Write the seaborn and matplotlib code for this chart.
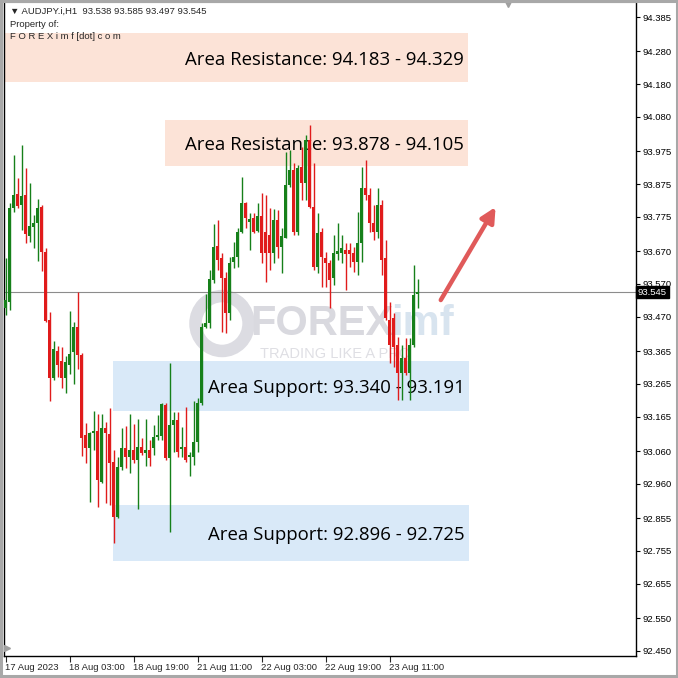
import matplotlib
matplotlib.use("Agg")
import matplotlib.pyplot as plt
import matplotlib.transforms as mtransforms
from matplotlib.patches import Rectangle, Circle
import seaborn as sns

# AUDJPY H1 candles
opens = [93.497, 93.515, 93.802, 93.845, 93.811, 93.842, 93.716, 93.744, 93.756, 93.805,
         93.668, 93.460, 93.283, 93.365, 93.335, 93.283, 93.323, 93.362, 93.439, 93.353,
         93.109, 93.069, 93.115, 93.121, 92.966, 93.130, 93.112, 93.027, 92.859, 93.011,
         93.069, 93.042, 93.063, 93.033, 93.072, 93.054, 93.063, 93.069, 93.103, 93.106,
         93.201, 93.039, 93.139, 93.155, 93.066, 93.072, 93.042, 93.042, 93.088, 93.207,
         93.439, 93.451, 93.582, 93.686, 93.649, 93.588, 93.481, 93.637, 93.652, 93.729,
         93.817, 93.759, 93.771, 93.732, 93.778, 93.729, 93.720, 93.665, 93.765, 93.683,
         93.710, 93.872, 93.918, 93.729, 93.927, 93.878, 94.010, 93.805, 93.622, 93.729,
         93.649, 93.634, 93.588, 93.662, 93.665, 93.674, 93.674, 93.665, 93.637, 93.695,
         93.863, 93.842, 93.756, 93.729, 93.811, 93.649, 93.460, 93.466, 93.384, 93.298,
         93.344, 93.298, 93.384, 93.538]
highs = [93.649, 93.817, 93.964, 93.894, 93.994, 93.924, 93.878, 93.781, 93.829, 93.811,
         93.680, 93.484, 93.396, 93.381, 93.378, 93.350, 93.487, 93.454, 93.546, 93.359,
         93.146, 93.118, 93.182, 93.173, 93.173, 93.149, 93.191, 93.063, 93.042, 93.130,
         93.136, 93.173, 93.143, 93.158, 93.100, 93.158, 93.094, 93.139, 93.170, 93.207,
         93.207, 93.329, 93.179, 93.179, 93.133, 93.194, 93.057, 93.213, 93.222, 93.451,
         93.539, 93.613, 93.753, 93.765, 93.665, 93.607, 93.652, 93.698, 93.741, 93.897,
         93.820, 93.787, 93.787, 93.817, 93.848, 93.842, 93.802, 93.799, 93.796, 93.741,
         93.973, 93.979, 93.939, 93.933, 93.988, 94.025, 94.055, 93.939, 93.787, 93.741,
         93.668, 93.643, 93.720, 93.756, 93.720, 93.695, 93.695, 93.683, 93.790, 93.927,
         93.949, 93.863, 93.811, 93.863, 93.826, 93.704, 93.515, 93.481, 93.408, 93.384,
         93.405, 93.405, 93.628, 93.585]
lows = [93.475, 93.491, 93.790, 93.802, 93.735, 93.695, 93.698, 93.680, 93.640, 93.610,
        93.454, 93.213, 93.277, 93.286, 93.252, 93.237, 93.295, 93.265, 93.310, 93.045,
        93.023, 92.904, 93.063, 92.889, 92.962, 92.901, 92.895, 92.779, 92.856, 93.002,
        93.008, 92.993, 93.023, 92.883, 93.048, 93.014, 93.014, 93.048, 93.094, 93.094,
        93.033, 92.813, 93.057, 93.042, 93.042, 93.027, 92.984, 93.017, 93.057, 93.201,
        93.436, 93.436, 93.573, 93.613, 93.423, 93.420, 93.460, 93.619, 93.622, 93.726,
        93.741, 93.674, 93.726, 93.729, 93.634, 93.576, 93.613, 93.634, 93.649, 93.604,
        93.710, 93.866, 93.720, 93.720, 93.826, 93.826, 93.802, 93.613, 93.604, 93.561,
        93.561, 93.497, 93.567, 93.643, 93.634, 93.552, 93.622, 93.607, 93.597, 93.637,
        93.826, 93.729, 93.704, 93.710, 93.597, 93.460, 93.329, 93.317, 93.216, 93.216,
        93.292, 93.216, 93.378, 93.497]
closes = [93.521, 93.802, 93.842, 93.808, 93.839, 93.723, 93.747, 93.756, 93.802, 93.668,
          93.457, 93.283, 93.372, 93.323, 93.283, 93.332, 93.356, 93.439, 93.353, 93.100,
          93.069, 93.115, 93.121, 92.972, 93.130, 93.115, 93.023, 92.859, 93.011, 93.069,
          93.042, 93.063, 93.033, 93.072, 93.054, 93.063, 93.039, 93.103, 93.109, 93.204,
          93.039, 93.139, 93.155, 93.057, 93.072, 93.033, 93.048, 93.088, 93.207, 93.439,
          93.451, 93.585, 93.683, 93.643, 93.588, 93.481, 93.634, 93.652, 93.729, 93.817,
          93.771, 93.768, 93.729, 93.778, 93.665, 93.665, 93.665, 93.765, 93.683, 93.716,
          93.872, 93.918, 93.729, 93.924, 93.878, 94.010, 93.805, 93.622, 93.726, 93.652,
          93.634, 93.582, 93.665, 93.671, 93.680, 93.662, 93.662, 93.637, 93.695, 93.863,
          93.842, 93.756, 93.729, 93.811, 93.643, 93.466, 93.384, 93.378, 93.298, 93.344,
          93.298, 93.384, 93.536, 93.545]

last_price = 93.545
header = "\u25bc AUDJPY.i,H1  93.538 93.585 93.497 93.545"

xtick_pos = [0, 16, 32, 48, 64, 80, 96]
xtick_labels = ["17 Aug 2023", "18 Aug 03:00", "18 Aug 19:00", "21 Aug 11:00",
                "22 Aug 03:00", "22 Aug 19:00", "23 Aug 11:00"]
ytick_vals = [94.385, 94.280, 94.180, 94.080, 93.975, 93.875, 93.775, 93.670, 93.570,
              93.470, 93.365, 93.265, 93.165, 93.060, 92.960, 92.855, 92.755, 92.655,
              92.550, 92.450]

zone_labels = ["Area Resistance: 94.183 - 94.329", "Area Resistance: 93.878 - 94.105",
               "Area Support: 93.340 - 93.191", "Area Support: 92.896 - 92.725"]
zone_lo = [94.187, 93.930, 93.182, 92.724]
zone_hi = [94.336, 94.071, 93.335, 92.895]
zone_start = [-0.1, 39.9, 26.9, 26.9]
zone_end = [115.6, 115.6, 115.8, 115.8]
zone_kind = ["res", "res", "sup", "sup"]

sns.set_theme(style="white")
plt.rcParams['font.family'] = ['Liberation Sans', 'DejaVu Sans']

GREEN = "#16801a"
RED = "#e01b1b"

fig = plt.figure(figsize=(6.78, 6.78), dpi=100)
ax = fig.add_axes([4/678, 22.5/678, 632/678, 653.5/678])
ax.set_facecolor("white")

# zones
for lab, lo, hi, s, e, k in zip(zone_labels, zone_lo, zone_hi, zone_start, zone_end, zone_kind):
    col = "#fce3d7" if k == "res" else "#d9e9f8"
    ax.add_patch(Rectangle((s, lo), e - s, hi - lo, facecolor=col, edgecolor="none", zorder=1))
    ax.text(e - 1.0, (lo + hi) / 2, lab, ha="right", va="center_baseline", fontsize=13.4,
            family=["Open Sans", "DejaVu Sans"], color="black", zorder=2)

# watermark
ax.add_patch(Circle((0.345, 0.508), 0.042, transform=ax.transAxes, facecolor="none",
                    edgecolor="#dcdce2", lw=9, zorder=0.5))
ax.text(0.389, 0.508, "FOREX", transform=ax.transAxes, fontsize=30, weight="bold",
        color="#d9d9df", ha="left", va="center", zorder=0.5)
ax.text(0.612, 0.508, "imf", transform=ax.transAxes, fontsize=30, weight="bold",
        color="#d8e4ef", ha="left", va="center", zorder=0.5)
ax.text(0.405, 0.461, "TRADING LIKE A PRO", transform=ax.transAxes, fontsize=10.5,
        color="#dfdfe4", ha="left", va="center", zorder=0.5)

# candles
for i, (o, h, l, c) in enumerate(zip(opens, highs, lows, closes)):
    col = GREEN if c >= o else RED
    ax.vlines(i, l, h, color=col, lw=1.0, zorder=3)
    ax.bar(i, max(abs(c - o), 0.003), bottom=min(o, c), width=0.8, color=col,
           edgecolor="none", zorder=3)

# last price line
ax.axhline(last_price, color="#8c8c8c", lw=0.8, zorder=2.5)

# arrow
ax.annotate("", xy=(122.5, 93.805), xytext=(108.8, 93.521),
            arrowprops=dict(arrowstyle="-|>", color="#e05a5a", lw=3.2, mutation_scale=22,
                            shrinkA=0, shrinkB=0), zorder=4)

ax.set_xlim(-0.375, 157.6)
ax.set_ylim(92.4357, 94.431)

ax.yaxis.tick_right()
ax.set_yticks(ytick_vals)
ax.set_yticklabels([f"{v:.3f}" for v in ytick_vals])
ax.tick_params(axis="y", right=True, left=False, length=3, width=0.8, pad=1.5,
               labelsize=6.8, colors="black")
ax.set_xticks(xtick_pos)
ax.set_xticklabels(xtick_labels, ha="left")
ax.tick_params(axis="x", bottom=True, length=4, width=0.8, pad=1.5, labelsize=6.8)
offset = mtransforms.ScaledTranslation(-1/100, 0, fig.dpi_scale_trans)
for lbl in ax.get_xticklabels():
    lbl.set_transform(lbl.get_transform() + offset)

for side in ["left", "right", "bottom"]:
    ax.spines[side].set_color("black")
    ax.spines[side].set_linewidth(1.0)
ax.spines["top"].set_color("#b0b0b0")
ax.spines["top"].set_linewidth(0.8)

# current price tag
trans = mtransforms.blended_transform_factory(ax.transAxes, ax.transData)
ax.text(1.003, last_price, f"{last_price:.3f}", transform=trans, ha="left", va="center",
        fontsize=6.8, color="white", zorder=6, clip_on=False,
        bbox=dict(boxstyle="square,pad=0.18", facecolor="black", edgecolor="black"))

# header
ax.text(0.01, 0.985, header, transform=ax.transAxes, fontsize=6.8, va="center", ha="left",
        family=["Liberation Sans", "DejaVu Sans"], zorder=6)
ax.text(0.01, 0.966, "Property of:", transform=ax.transAxes, fontsize=6.8, va="center", zorder=6)
ax.text(0.01, 0.947, "F O R E X i m f [dot] c o m", transform=ax.transAxes, fontsize=6.8,
        va="center", zorder=6)

# small markers
ax.plot([0.797], [0.997], marker="v", color="#a0a0a0", markersize=5, transform=ax.transAxes,
        clip_on=False, zorder=6)
ax.plot([0.004], [0.012], marker=">", color="#a0a0a0", markersize=4, transform=ax.transAxes,
        clip_on=False, zorder=6)

# window frame
fig.add_artist(Rectangle((0.001, 0.003), 0.997, 0.995, transform=fig.transFigure,
                         facecolor="none", edgecolor="#a8a8a8", lw=2.2))

fig.savefig("out.png", dpi=100, facecolor="white")
